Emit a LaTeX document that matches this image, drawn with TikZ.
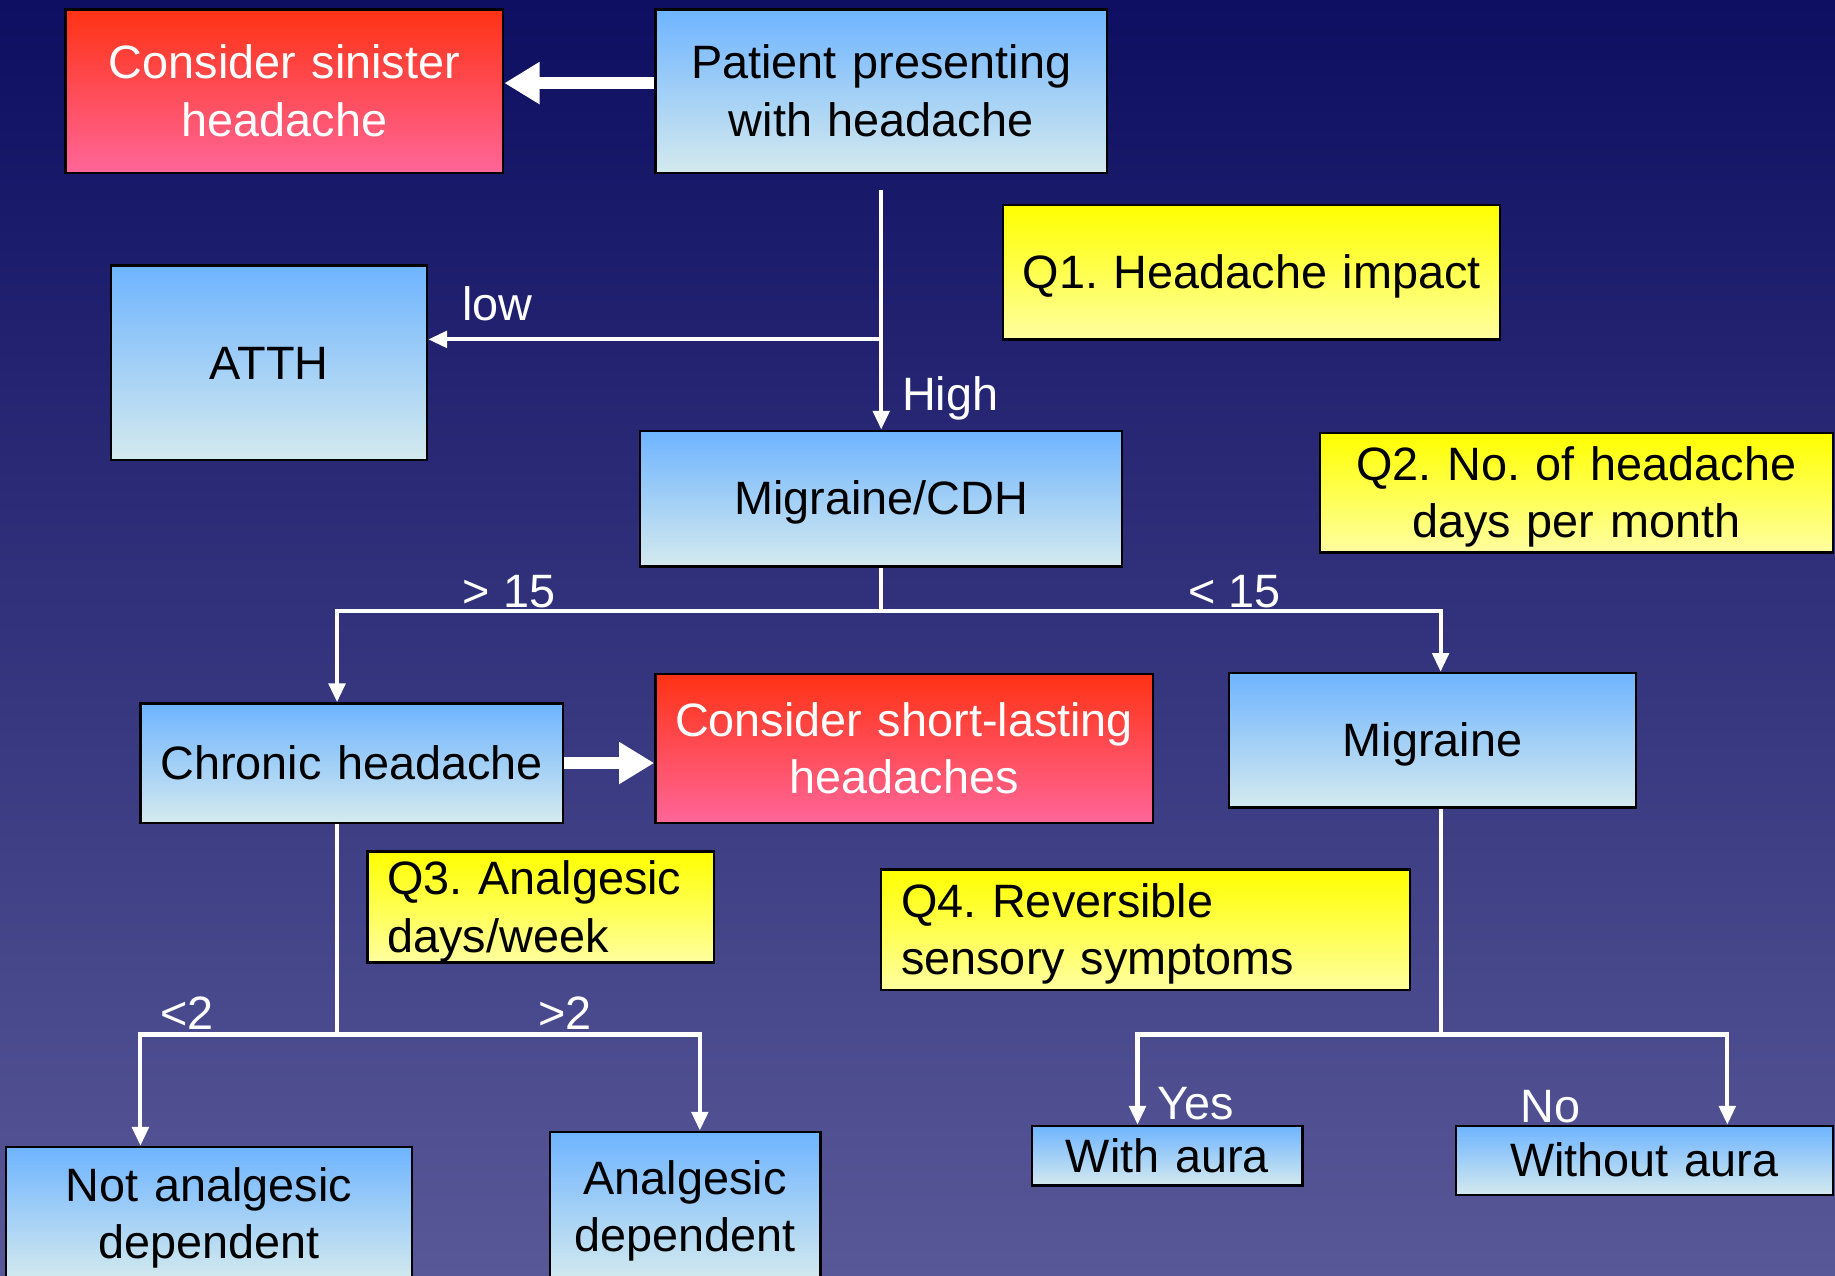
\documentclass[tikz,border=0pt]{standalone}
\usepackage{fontspec}
\setmainfont{Liberation Sans}
\usetikzlibrary{arrows.meta}

\definecolor{bgtop}{RGB}{14,14,98}
\definecolor{bgbot}{RGB}{88,88,152}
\definecolor{bluetop}{RGB}{110,180,255}
\definecolor{bluebot}{RGB}{212,234,238}
\definecolor{redtop}{RGB}{255,50,20}
\definecolor{redbot}{RGB}{255,102,153}
\definecolor{yeltop}{RGB}{255,255,0}
\definecolor{yelbot}{RGB}{255,255,160}
\newcommand{\linestrut}{\rule[-9pt]{0pt}{46pt}}
\frenchspacing

\begin{document}
\begin{tikzpicture}[x=1pt,y=-1pt,>={Triangle[length=16pt,width=14pt]},
  font=\fontsize{40}{49}\selectfont,
  execute at begin node=\linestrut,execute at end node=\linestrut]
\tikzset{box/.style={draw=black,line width=2pt,align=center,inner sep=0pt},
  bluebox/.style={box,top color=bluetop,bottom color=bluebot},
  redbox/.style={box,top color=redtop,bottom color=redbot,text=white},
  qbox/.style={box,top color=yeltop,bottom color=yelbot},
  qleft/.style={qbox,align=left,inner xsep=17pt},
  link/.style={white,line width=3.5pt},
  fat/.style={white,line width=10pt,-{Triangle[length=30pt,width=34pt]}},
  lbl/.style={text=white,inner sep=0pt}}
\useasboundingbox (0,0) rectangle (1568,1090);
\clip (0,0) rectangle (1568,1090);
\shade[top color=bgtop,bottom color=bgbot] (0,0) rectangle (1568,1090);
% ---------- boxes ----------
\node[redbox,text width=374pt,minimum height=140pt] (sinister) at (243,78) {Consider sinister\\headache};
\node[bluebox,text width=386pt,minimum height=140pt] (patient) at (753,78) {Patient presenting\\with headache};
\node[qbox,text width=425pt,minimum height=115pt] (q1) at (1069.5,232.5) {Q1. Headache impact};
\node[bluebox,text width=270pt,minimum height=166pt] (atth) at (230,310) {ATTH};
\node[bluebox,text width=412pt,minimum height=116pt] (cdh) at (753,426) {Migraine/CDH};
\node[qbox,text width=438pt,minimum height=102pt] (q2) at (1347,421) {Q2. No. of headache\\days per month};
\node[bluebox,text width=361pt,minimum height=102pt] (chronic) at (300.5,652) {Chronic headache};
\node[redbox,text width=425pt,minimum height=127pt] (short) at (772.5,639.5) {Consider short-lasting\\headaches};
\node[bluebox,text width=348pt,minimum height=115pt] (migraine) at (1224,632.5) {Migraine};
\node[qleft,text width=262pt,minimum height=90pt] (q3) at (462,775) {Q3. Analgesic\\days/week};
\node[qleft,text width=418pt,minimum height=103pt] (q4) at (979,794.5) {Q4. Reversible\\sensory symptoms};
\node[bluebox,text width=347pt,minimum height=114pt] (notdep) at (178.5,1037) {Not analgesic\\dependent};
\node[bluebox,text width=231pt,minimum height=128pt] (dep) at (585.5,1031) {Analgesic\\dependent};
\node[bluebox,text width=231pt,minimum height=51pt] (withaura) at (997.5,987.5) {With aura};
\node[bluebox,text width=322pt,minimum height=59pt] (noaura) at (1405,991.5) {Without aura};
% ---------- block arrows ----------
\draw[fat] ([yshift=7pt]patient.west) -- ([yshift=7pt]sinister.east);
\draw[fat] (chronic.east) -- (chronic.east -| short.west);
% ---------- Q1 ----------
\coordinate (start) at (753,162);
\coordinate (lowsplit) at (753,290);
\draw[link,->] (start) -- (cdh.north);
\draw[link,->] (lowsplit) -- (lowsplit -| atth.east);
\node[lbl] (lowlbl) at (425,260) {low};
\node[lbl] (highlbl) at (812,337) {High};
% ---------- Q2 ----------
\coordinate (split15) at (753,522);
\coordinate (left15) at (288,522);
\coordinate (right15) at (1231,522);
\draw[link] (cdh.south) -- (split15);
\draw[link,->] (split15) -- (left15) -- (left15 |- chronic.north);
\draw[link,->] (split15) -- (right15) -- (right15 |- migraine.north);
\node[lbl] (gt15) at (435,505) {> 15};
\node[lbl] (lt15) at (1055,505) {< 15};
% ---------- Q3 ----------
\coordinate (split2) at (288,884);
\coordinate (left2) at (120,884);
\coordinate (right2) at (598,884);
\draw[link] (split2 |- chronic.south) -- (split2);
\draw[link,->] (split2) -- (left2) -- (left2 |- notdep.north);
\draw[link,->] (split2) -- (right2) -- (right2 |- dep.north);
\node[lbl] (lt2) at (160,866) {<2};
\node[lbl] (gt2) at (483,866) {>2};
% ---------- Q4 ----------
\coordinate (splitaura) at (1231,884);
\coordinate (leftaura) at (972,884);
\coordinate (rightaura) at (1476,884);
\draw[link] (splitaura |- migraine.south) -- (splitaura);
\draw[link,->] (splitaura) -- (leftaura) -- (leftaura |- withaura.north);
\draw[link,->] (splitaura) -- (rightaura) -- (rightaura |- noaura.north);
\node[lbl] (yeslbl) at (1022,943) {Yes};
\node[lbl] (nolbl) at (1325,945) {No};
\end{tikzpicture}
\end{document}
